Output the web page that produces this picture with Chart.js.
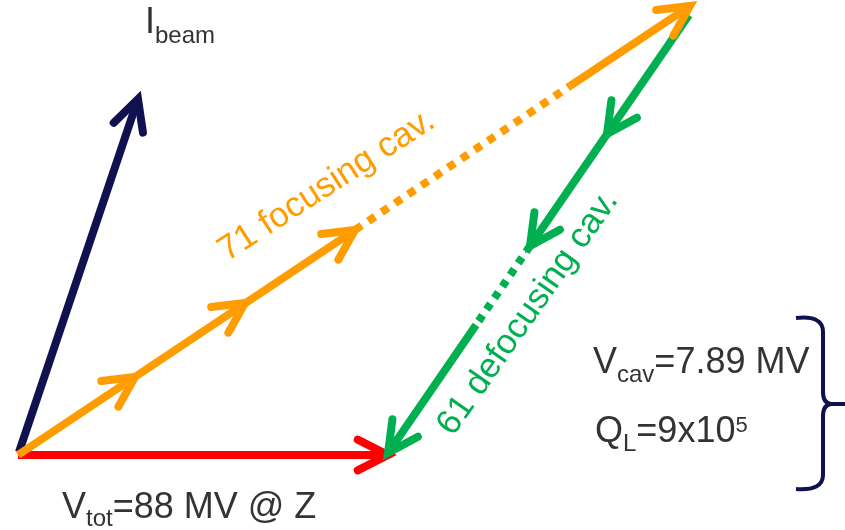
<!DOCTYPE html>
<html>
<head>
<meta charset="utf-8">
<script src="https://cdn.jsdelivr.net/npm/chart.js@4/dist/chart.umd.min.js"></script>
<style>
  html, body { margin: 0; padding: 0; background: #fff; }
  #wrap { width: 845px; height: 530px; position: relative; }
</style>
</head>
<body>
<div id="wrap"><canvas id="phasor"></canvas></div>
<script>
// phasor end points, common origin at (0,0), y pointing up
const totPath = [[0, 0], [370, 0]];                                  // V_tot
const beamPath = [[1, 3], [120, 356]];                               // I_beam
const focusPath = [[0, 0], [337, 225], [552, 369], [672, 449]];      // solid, dotted, solid
const focusArrows = [[117, 78], [227, 152], [337, 225], [672, 449]];
const defocusPath = [[671, 440], [512, 209], [458, 130], [370, 2]];  // solid, dotted, solid
const defocusArrows = [[589, 321], [512, 209], [370, 2]];

const focusLabel = '71 focusing cav.';
const defocusLabel = '61 defocusing cav.';

const RED = '#ff0000';
const NAVY = '#10124f';
const ORANGE = '#ff9c00';
const GREEN = '#00b050';
const TEXT = '#333333';
const FONT = '"Liberation Sans", Arial, sans-serif';

function toXY(arr) {
    return arr.map(p => ({ x: p[0], y: p[1] }));
}

// dotted middle piece of the cavity strings
const dotted = (dash) => ({
    borderDash: c => c.p0DataIndex === 1 ? dash : undefined
});

// open arrow heads, drawn in pixel space from the scale positions
const arrowPlugin = {
    id: 'arrows',
    afterDatasetsDraw(chart) {
        const { ctx, scales: { x, y } } = chart;
        const px = p => [x.getPixelForValue(p[0]), y.getPixelForValue(p[1])];
        const heads = [
            { tips: [totPath[1]], from: totPath[0], to: totPath[1], color: RED },
            { tips: [beamPath[1]], from: beamPath[0], to: beamPath[1], color: NAVY },
            { tips: focusArrows, from: focusPath[0], to: focusPath[3], color: ORANGE },
            { tips: defocusArrows, from: defocusPath[0], to: defocusPath[3], color: GREEN }
        ];
        const len = 34, half = 27 * Math.PI / 180;
        ctx.save();
        ctx.lineWidth = 8;
        ctx.lineCap = 'round';
        ctx.lineJoin = 'miter';
        heads.forEach(h => {
            const a = px(h.from), b = px(h.to);
            const ang = Math.atan2(a[1] - b[1], a[0] - b[0]); // pointing back
            ctx.strokeStyle = h.color;
            h.tips.forEach(t => {
                const p = px(t);
                ctx.beginPath();
                ctx.moveTo(p[0] + len * Math.cos(ang + half), p[1] + len * Math.sin(ang + half));
                ctx.lineTo(p[0], p[1]);
                ctx.lineTo(p[0] + len * Math.cos(ang - half), p[1] + len * Math.sin(ang - half));
                ctx.stroke();
            });
        });
        ctx.restore();
    }
};

// text with sub/superscripts
function richText(ctx, parts, x, y) {
    parts.forEach(([t, size, dy]) => {
        ctx.font = size + 'px ' + FONT;
        ctx.fillText(t, x, y + dy);
        x += ctx.measureText(t).width;
    });
}

const labelPlugin = {
    id: 'labels',
    afterDraw(chart) {
        const ctx = chart.ctx;
        ctx.save();
        ctx.textBaseline = 'alphabetic';
        ctx.fillStyle = TEXT;
        richText(ctx, [['I', 36, 0], ['beam', 24, 10]], 145, 33);
        richText(ctx, [['V', 36, 0], ['tot', 24, 8], ['=88 MV @ Z', 36, 0]], 62, 518);
        richText(ctx, [['V', 36, 0], ['cav', 24, 9], ['=7.89 MV', 36, 0]], 593, 373);
        richText(ctx, [['Q', 36, 0], ['L', 24, 9], ['=9x10', 36, 0], ['5', 22, -10]], 595, 442);

        ctx.font = '35px ' + FONT;
        ctx.fillStyle = ORANGE;
        ctx.save();
        ctx.translate(227, 262);
        ctx.rotate(-33 * Math.PI / 180);
        ctx.fillText(focusLabel, 0, 0);
        ctx.restore();

        ctx.fillStyle = GREEN;
        ctx.save();
        ctx.translate(453, 437);
        ctx.rotate(-55 * Math.PI / 180);
        ctx.fillText(defocusLabel, 0, 0);
        ctx.restore();

        // right-hand brace
        ctx.strokeStyle = NAVY;
        ctx.lineWidth = 4;
        ctx.lineCap = 'butt';
        ctx.beginPath();
        ctx.moveTo(796, 318);
        ctx.quadraticCurveTo(823, 315, 823, 332);
        ctx.lineTo(823, 392);
        ctx.quadraticCurveTo(823, 403, 831, 404);
        ctx.lineTo(845, 404);
        ctx.moveTo(831, 404);
        ctx.quadraticCurveTo(823, 405, 823, 416);
        ctx.lineTo(823, 475);
        ctx.quadraticCurveTo(823, 491, 796, 489);
        ctx.stroke();
        ctx.restore();
    }
};

const common = {
    showLine: true,
    pointRadius: 0,
    pointHoverRadius: 0,
    fill: false,
    tension: 0,
    borderCapStyle: 'butt'
};

new Chart(document.getElementById('phasor'), {
    type: 'scatter',
    data: {
        datasets: [
            { ...common, label: defocusLabel, data: toXY(defocusPath), borderColor: GREEN, borderWidth: 8, segment: dotted([7, 7]) },
            { ...common, label: focusLabel, data: toXY(focusPath), borderColor: ORANGE, borderWidth: 8, segment: dotted([8, 8]) },
            { ...common, label: 'I beam', data: toXY(beamPath), borderColor: NAVY, borderWidth: 8 },
            { ...common, label: 'V tot', data: toXY(totPath), borderColor: RED, borderWidth: 8 }
        ]
    },
    options: {
        responsive: true,
        maintainAspectRatio: false,
        animation: false,
        layout: { padding: 0 },
        plugins: {
            legend: { display: false },
            tooltip: { enabled: false }
        },
        scales: {
            x: { type: 'linear', min: -18, max: 827, display: false },
            y: { type: 'linear', min: -75, max: 455, display: false }
        }
    },
    plugins: [arrowPlugin, labelPlugin]
});
</script>
</body>
</html>
